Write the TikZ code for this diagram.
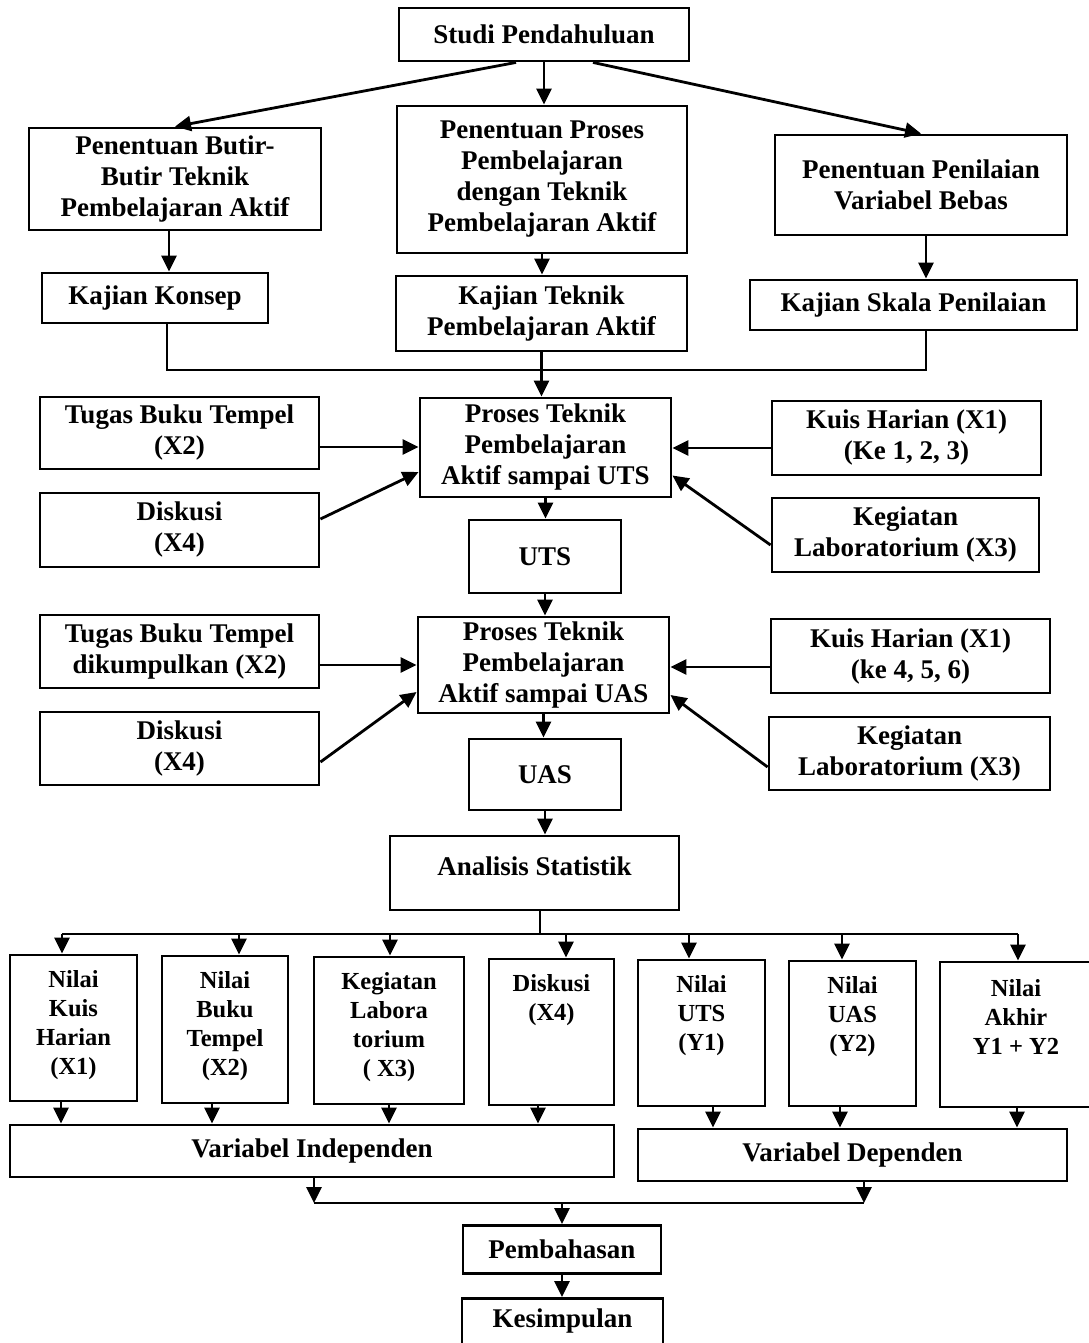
\documentclass[tikz,border=0pt]{standalone}
\usepackage{fontspec}
\setmainfont{Liberation Serif}
\usetikzlibrary{calc}
\usetikzlibrary{arrows.meta}

\begin{document}
\begin{tikzpicture}[x=1pt, y=-1pt,
    box/.style={draw, line width=2.9pt, inner sep=0pt, align=center, font=\bfseries\fontsize{27}{31}\selectfont},
    stat_box/.style={draw, line width=2.9pt, inner sep=0pt, font=\bfseries\fontsize{24.5}{29}\selectfont},
    arrow_main/.style={-{Triangle[length=16pt,width=15pt]}, line width=2.8pt},
    line_plain/.style={line width=2.8pt},
]
\useasboundingbox (0,0) rectangle (1088,1343);

% preliminary stage
\node[box, minimum width=290pt, minimum height=53pt] (studi) at (544,34.5) {Studi Pendahuluan};

\node[box, minimum width=292pt, minimum height=102pt] (butir) at (175,179) {Penentuan Butir-\\Butir Teknik\\Pembelajaran Aktif};
\node[box, minimum width=290pt, minimum height=147pt] (proses) at (542,179.5) {Penentuan Proses\\Pembelajaran\\dengan Teknik\\Pembelajaran Aktif};
\node[box, minimum width=292pt, minimum height=100pt] (penilaian) at (921,185) {Penentuan Penilaian\\Variabel Bebas};

\node[box, minimum width=226pt, minimum height=50pt] (konsep) at (155,298) {Kajian Konsep};
\node[box, minimum width=291pt, minimum height=75pt] (kteknik) at (541.5,313.5) {Kajian Teknik\\Pembelajaran Aktif};
\node[box, minimum width=327pt, minimum height=50pt] (skala) at (913.5,305) {Kajian Skala Penilaian};

% process until UTS
\node[box, minimum width=251pt, minimum height=99pt] (prosesuts) at (545.5,447.5) {Proses Teknik\\Pembelajaran\\Aktif sampai UTS};
\node[box, minimum width=279pt, minimum height=72pt] (tugas1) at (179.5,433) {Tugas Buku Tempel\\(X2)};
\node[box, minimum width=279pt, minimum height=74pt] (diskusi1) at (179.5,530) {Diskusi\\(X4)};
\node[box, minimum width=269pt, minimum height=74pt] (kuis1) at (906.5,438) {Kuis Harian (X1)\\(Ke 1, 2, 3)};
\node[box, minimum width=267pt, minimum height=74pt] (lab1) at (905.5,535) {Kegiatan\\Laboratorium (X3)};
\node[box, minimum width=152pt, minimum height=73pt] (uts) at (545,556.5) {UTS};

% process until UAS
\node[box, minimum width=251pt, minimum height=96pt] (prosesuas) at (543.5,665) {Proses Teknik\\Pembelajaran\\Aktif sampai UAS};
\node[box, minimum width=279pt, minimum height=73pt] (tugas2) at (179.5,651.5) {Tugas Buku Tempel\\dikumpulkan (X2)};
\node[box, minimum width=279pt, minimum height=73pt] (diskusi2) at (179.5,748.5) {Diskusi\\(X4)};
\node[box, minimum width=279pt, minimum height=74pt] (kuis2) at (910.5,656) {Kuis Harian (X1)\\(ke 4, 5, 6)};
\node[box, minimum width=281pt, minimum height=73pt] (lab2) at (909.5,753.5) {Kegiatan\\Laboratorium (X3)};
\node[box, minimum width=152pt, minimum height=71pt] (uas) at (545,774.5) {UAS};

\node[box, minimum width=289pt, text height=39pt, text depth=35pt] (analisis) at (534.5,873) {Analisis Statistik};

% scores
\node[stat_box] (kuisval) at (73.5,1028) {\parbox[c][146pt][t]{127pt}{\centering\vspace*{15pt}Nilai\\Kuis\\Harian\\(X1)}};
\node[stat_box] (bukuval) at (225,1029.5) {\parbox[c][147pt][t]{126pt}{\centering\vspace*{15pt}Nilai\\Buku\\Tempel\\(X2)}};
\node[stat_box] (labval) at (389,1030.5) {\parbox[c][147pt][t]{150pt}{\centering\vspace*{15pt}Kegiatan\\Labora\\torium\\( X3)}};
\node[stat_box] (diskusival) at (551.5,1032) {\parbox[c][146pt][t]{125pt}{\centering\vspace*{15pt}Diskusi\\(X4)}};
\node[stat_box] (utsval) at (701.5,1033) {\parbox[c][146pt][t]{127pt}{\centering\vspace*{15pt}Nilai\\UTS\\(Y1)}};
\node[stat_box] (uasval) at (852.5,1033.5) {\parbox[c][145pt][t]{127pt}{\centering\vspace*{15pt}Nilai\\UAS\\(Y2)}};
\node[stat_box] (akhirval) at (1016,1034.5) {\parbox[c][145pt][t]{152pt}{\centering\vspace*{17pt}Nilai\\Akhir\\Y1 + Y2}};

\node[box, minimum width=604pt, minimum height=52pt] (varind) at (312,1151) {Variabel Independen};
\node[box, minimum width=429pt, minimum height=52pt] (vardep) at (852.5,1155) {Variabel Dependen};

\node[box, minimum width=198pt, minimum height=48pt] (pembahasan) at (562,1249.5) {Pembahasan};
\node[box, minimum width=201pt, text height=29pt, text depth=30pt, anchor=north] (kesimpulan) at (562.5,1297) {Kesimpulan};

% arrows of the preliminary stage
\draw[arrow_main] ([xshift=-28pt]studi.south) -- (butir.north);
\draw[arrow_main] (studi.south) -- (studi.south |- proses.north);
\draw[arrow_main] ([xshift=49pt]studi.south) -- (penilaian.north);
\draw[arrow_main] ([xshift=-6pt]butir.south) -- ([xshift=-6pt]butir.south |- konsep.north);
\draw[arrow_main] (proses.south) -- (proses.south |- kteknik.north);
\draw[arrow_main] ([xshift=5pt]penilaian.south) -- ([xshift=5pt]penilaian.south |- skala.north);

\coordinate (merge) at (541.5,370);
\draw[line_plain] ([xshift=12pt]konsep.south) |- (merge) -| ([xshift=12.5pt]skala.south);
\draw[arrow_main] (kteknik.south) -- (kteknik.south |- prosesuts.north);

% arrows into the processes
\draw[arrow_main] ([yshift=-14pt]tugas1.east) -- ([yshift=-14pt]tugas1.east -| prosesuts.west);
\draw[arrow_main] ([yshift=-10pt]kuis1.west) -- ([yshift=-10pt]kuis1.west -| prosesuts.east);
\draw[arrow_main] ([yshift=11pt]diskusi1.east) -- ([yshift=-24.5pt]prosesuts.west);
\draw[arrow_main] ([yshift=-10pt]lab1.west) -- ([yshift=-28pt]prosesuts.east);
\draw[arrow_main] (prosesuts.south) -- (prosesuts.south |- uts.north);
\draw[arrow_main] (uts.south) -- (uts.south |- prosesuas.north);

\draw[arrow_main] ([yshift=-13.5pt]tugas2.east) -- ([yshift=-13.5pt]tugas2.east -| prosesuas.west);
\draw[arrow_main] ([yshift=-11pt]kuis2.west) -- ([yshift=-11pt]kuis2.west -| prosesuas.east);
\draw[arrow_main] ([yshift=-13.5pt]diskusi2.east) -- ([yshift=-27pt]prosesuas.west);
\draw[arrow_main] ([yshift=-13.5pt]lab2.west) -- ([yshift=-30pt]prosesuas.east);
\draw[arrow_main] (prosesuas.south) -- (prosesuas.south |- uas.north);
\draw[arrow_main] (uas.south) -- (uas.south |- analisis.north);

% split to the scores
\coordinate (split) at (540,934);
\draw[line_plain] ([xshift=5.5pt]analisis.south) -- (split);
\draw[line_plain] ([xshift=-11.5pt]kuisval.north |- split) -- ([xshift=2pt]akhirval.north |- split);
\draw[arrow_main] ([xshift=-11.5pt]kuisval.north |- split) -- ([xshift=-11.5pt]kuisval.north);
\draw[arrow_main] ([xshift=14pt]bukuval.north |- split) -- ([xshift=14pt]bukuval.north);
\draw[arrow_main] ([xshift=1pt]labval.north |- split) -- ([xshift=1pt]labval.north);
\draw[arrow_main] ([xshift=14.5pt]diskusival.north |- split) -- ([xshift=14.5pt]diskusival.north);
\draw[arrow_main] ([xshift=-12.5pt]utsval.north |- split) -- ([xshift=-12.5pt]utsval.north);
\draw[arrow_main] ([xshift=-10.5pt]uasval.north |- split) -- ([xshift=-10.5pt]uasval.north);
\draw[arrow_main] ([xshift=2pt]akhirval.north |- split) -- ([xshift=2pt]akhirval.north);

% scores to variables
\draw[arrow_main] ([xshift=-12.5pt]kuisval.south) -- ([xshift=-12.5pt]kuisval.south |- varind.north);
\draw[arrow_main] ([xshift=-13pt]bukuval.south) -- ([xshift=-13pt]bukuval.south |- varind.north);
\draw[arrow_main] (labval.south) -- (labval.south |- varind.north);
\draw[arrow_main] ([xshift=-13.5pt]diskusival.south) -- ([xshift=-13.5pt]diskusival.south |- varind.north);
\draw[arrow_main] ([xshift=11.5pt]utsval.south) -- ([xshift=11.5pt]utsval.south |- vardep.north);
\draw[arrow_main] ([xshift=-12.5pt]uasval.south) -- ([xshift=-12.5pt]uasval.south |- vardep.north);
\draw[arrow_main] ([xshift=1pt]akhirval.south) -- ([xshift=1pt]akhirval.south |- vardep.north);

% variables to the discussion
\coordinate (join) at (562,1203);
\draw[arrow_main] ([xshift=2pt]varind.south) -- ([xshift=2pt]varind.south |- join);
\draw[arrow_main] ([xshift=11.5pt]vardep.south) -- ([xshift=11.5pt]vardep.south |- join);
\draw[line_plain] ([xshift=2pt]varind.south |- join) -- ([xshift=11.5pt]vardep.south |- join);
\draw[arrow_main] (join) -- (join |- pembahasan.north);
\draw[arrow_main] (pembahasan.south) -- (pembahasan.south |- kesimpulan.north);

\end{tikzpicture}
\end{document}
